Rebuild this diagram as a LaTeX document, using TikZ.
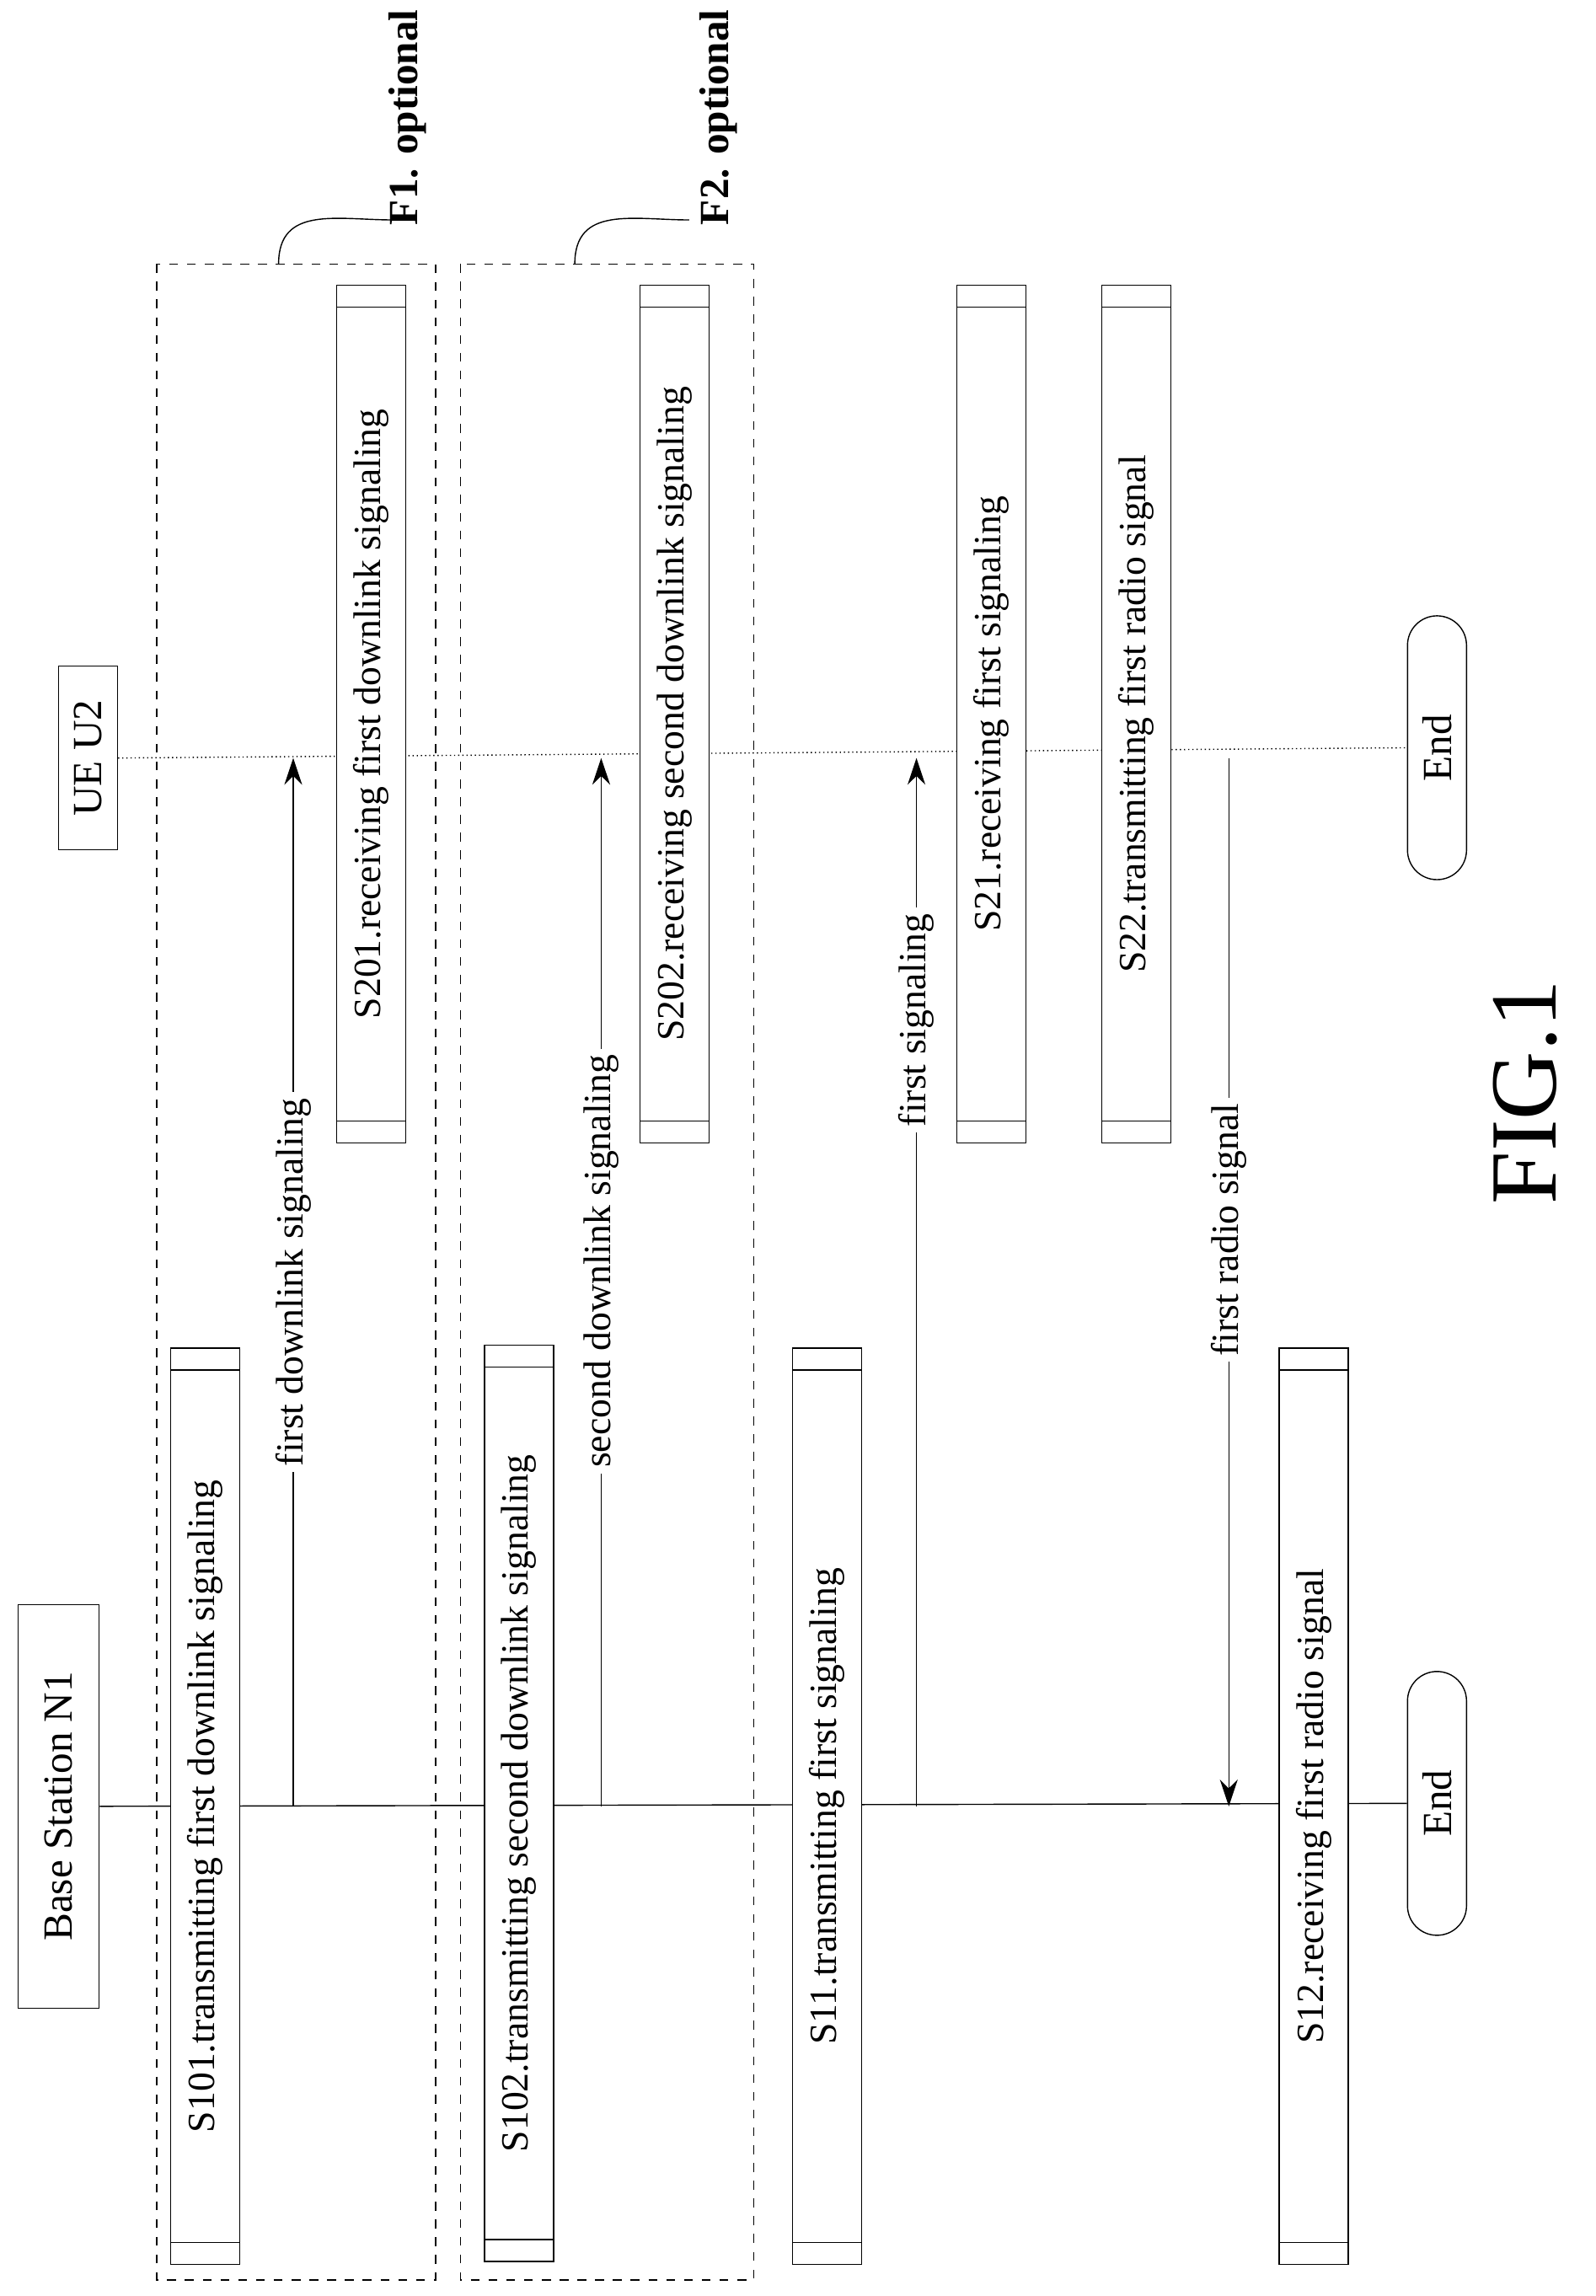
\documentclass[tikz,border=0pt]{standalone}
\usepackage{fontspec}
\setmainfont{Liberation Serif}
\usetikzlibrary{arrows.meta,calc}

\tikzset{
  actor/.style={draw, rectangle, rotate=90, fill=white, font=\fontsize{14}{16}\selectfont},
  proc/.style={draw, rectangle, rotate=90, fill=white, minimum height=0.82cm, font=\fontsize{13}{15}\selectfont},
  endnode/.style={draw, rounded corners=0.35cm, rotate=90, fill=white, minimum width=3.13cm, minimum height=0.7cm, font=\fontsize{14}{16}\selectfont},
  msg/.style={draw, -{Stealth[length=9pt,width=6pt]}},
  msglabel/.style={fill=white, rotate=90, inner sep=2pt, font=\fontsize{13}{15}\selectfont},
  optbox/.style={draw, dashed},
}

% process box with double lines at both ends
\newcommand{\procbox}[5]{%
  \node[proc, minimum width=#4*0.0174cm] (#1) at (#2,#3) {#5};
  \draw ($(#2,#3)+(-23.5,-#4/2+15)$) -- ($(#2,#3)+(23.5,-#4/2+15)$);
  \draw ($(#2,#3)+(-23.5,#4/2-15)$) -- ($(#2,#3)+(23.5,#4/2-15)$);
}

\begin{document}
\begin{tikzpicture}[x=0.0174cm, y=-0.0174cm]
\useasboundingbox (0,0) rectangle (1088,1566);

% actors
\node[actor, minimum width=4.79cm, minimum height=0.96cm] (bs) at (40,1232) {Base Station N1};
\node[actor, minimum width=2.18cm, minimum height=0.7cm] (ue) at (60,517) {UE U2};
\node[endnode] (bsend) at (980,1230) {End};
\node[endnode] (ueend) at (980,510) {End};

% lifelines
\draw (bs.south) -- (bsend.north);
\draw[densely dotted] (ue.south) -- (ueend.north);

% optional frames
\draw[optbox] (107,180) rectangle (297,1555);
\draw[optbox] (314,180) rectangle (514,1555);
\draw (190,180) .. controls (190,140) and (230,150) .. (268,150);
\draw (392,180) .. controls (392,140) and (432,150) .. (470,150);
\node[rotate=90, font=\bfseries\fontsize{14}{16}\selectfont] (f1) at (278,80) {F1. optional};
\node[rotate=90, font=\bfseries\fontsize{14}{16}\selectfont] (f2) at (490,80) {F2. optional};

% steps
\procbox{s101}{140}{1232}{625}{S101.transmitting first downlink signaling}
\procbox{s201}{253}{487}{585}{S201.receiving first downlink signaling}
\procbox{s102}{354}{1230}{625}{S102.transmitting second downlink signaling}
\procbox{s202}{460}{487}{585}{S202.receiving second downlink signaling}
\procbox{s11}{564}{1232}{625}{S11.transmitting first signaling}
\procbox{s21}{676}{487}{585}{S21.receiving first signaling}
\procbox{s22}{775}{487}{585}{S22.transmitting first radio signal}
\procbox{s12}{896}{1232}{625}{S12.receiving first radio signal}

% messages
\coordinate (m1a) at (200,1232); \coordinate (m1b) at (200,517);
\coordinate (m2a) at (410,1232); \coordinate (m2b) at (410,517);
\coordinate (m3a) at (625,1232); \coordinate (m3b) at (625,517);
\coordinate (m4a) at (838,517);  \coordinate (m4b) at (838,1232);
\draw[msg] (m1a) -- node[msglabel] {first downlink signaling} (m1b);
\draw[msg] (m2a) -- node[msglabel, pos=0.52] {second downlink signaling} (m2b);
\draw[msg] (m3a) -- node[msglabel, pos=0.75] {first signaling} (m3b);
\draw[msg] (m4a) -- node[msglabel, pos=0.45] {first radio signal} (m4b);

\node[rotate=90, font=\fontsize{32}{36}\selectfont] (fig) at (1040,745) {FIG.1};
\end{tikzpicture}
\end{document}
